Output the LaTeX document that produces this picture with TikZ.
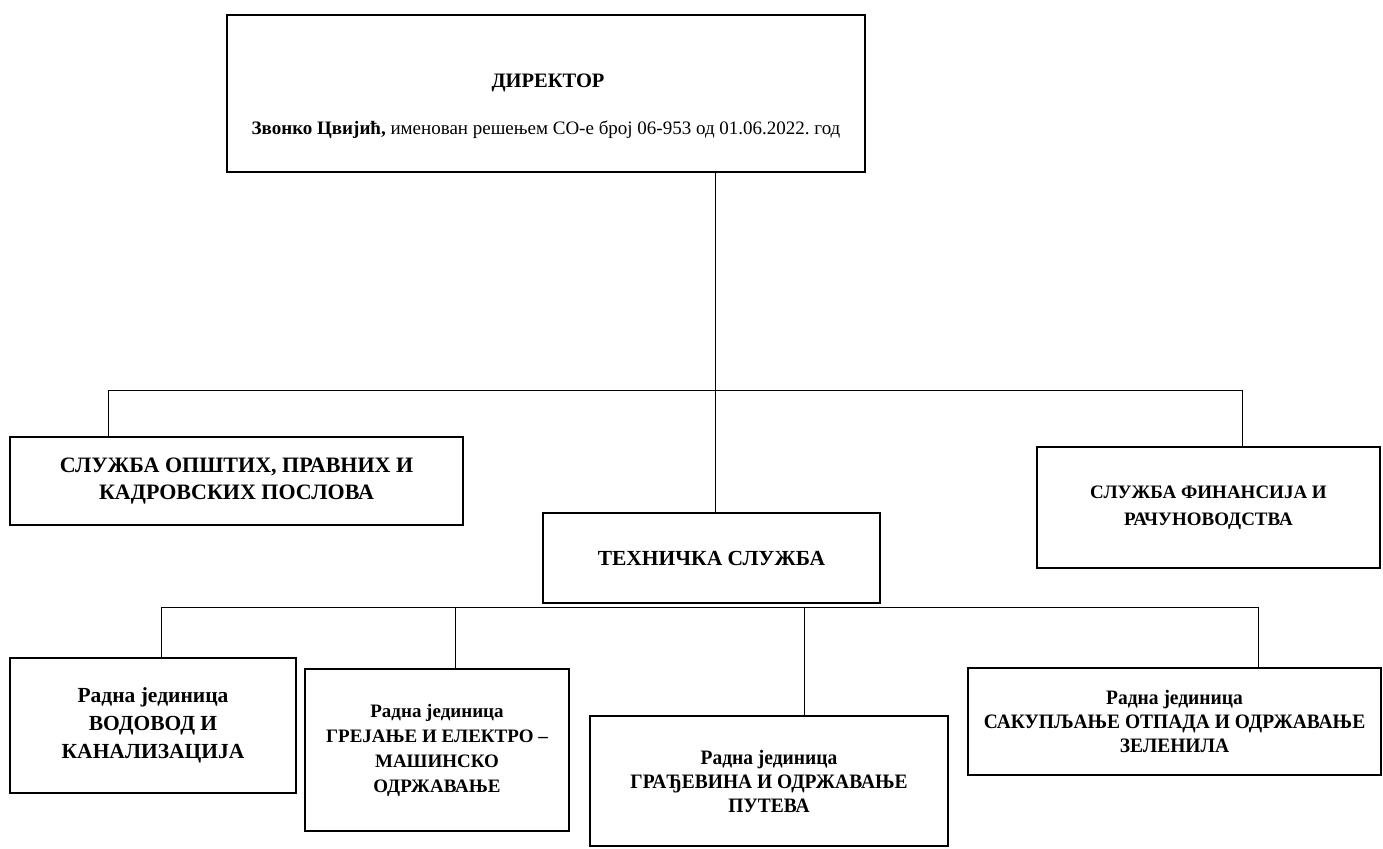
\documentclass[tikz,border=0pt]{standalone}
\usepackage{fontspec}
\setmainfont{Liberation Serif}
\newfontfamily\narrowfont[FakeStretch=0.95]{Liberation Serif}
\frenchspacing
\tikzset{
	unit/.style={draw, line width=1.1pt, align=center, inner sep=0pt, font=\bfseries\fontsize{21.5}{27}\selectfont},
	narrowunit/.style={unit, font=\narrowfont\bfseries\fontsize{20.5}{24}\selectfont},
	link/.style={line width=0.8pt}
}
\begin{document}
\begin{tikzpicture}[x=1pt,y=-1pt]
	\useasboundingbox (0,0) rectangle (1383,848);
	% director
	\node[unit, minimum width=638, minimum height=157] (dir) at (546,93.5) {};
	\node[font=\bfseries\fontsize{20.5}{24}\selectfont] (dirtitle) at (548,83) {ДИРЕКТОР};
	\node[font=\fontsize{19}{24}\selectfont] (dirname) at (546,130) {\textbf{Звонко Цвијић,} именован решењем СО-е број 06-953 од 01.06.2022. год};
	% first level
	\node[unit, minimum width=453, minimum height=88, font=\bfseries\fontsize{22}{27}\selectfont] (ops) at (236.5,481) {СЛУЖБА ОПШТИХ, ПРАВНИХ И\\КАДРОВСКИХ ПОСЛОВА};
	\node[unit, minimum width=343, minimum height=121, font=\bfseries\fontsize{19}{27}\selectfont] (fin) at (1208.5,507.5) {СЛУЖБА ФИНАНСИЈА И\\РАЧУНОВОДСТВА};
	\node[unit, minimum width=337, minimum height=90] (tech) at (711.5,558) {ТЕХНИЧКА СЛУЖБА};
	% work units
	\node[unit, minimum width=286, minimum height=135, font=\bfseries\fontsize{21.5}{28}\selectfont] (vod) at (153,725.5) {Радна јединица\\ВОДОВОД И\\КАНАЛИЗАЦИЈА};
	\node[unit, minimum width=264, minimum height=162, font=\bfseries\fontsize{19}{25}\selectfont] (grej) at (437,750) {Радна јединица\\ГРЕЈАЊЕ И ЕЛЕКТРО –\\МАШИНСКО\\ОДРЖАВАЊЕ};
	\node[narrowunit, minimum width=358, minimum height=130] (grad) at (769,781) {Радна јединица\\ГРАЂЕВИНА И ОДРЖАВАЊЕ\\ПУТЕВА};
	\node[narrowunit, minimum width=413, minimum height=107] (sak) at (1174.5,721.5) {Радна јединица\\САКУПЉАЊЕ ОТПАДА И ОДРЖАВАЊЕ\\ЗЕЛЕНИЛА};
	% connectors
	\coordinate (trunk) at (715,390);
	\coordinate (bar1w) at (108,390);
	\coordinate (bar1e) at (1242,390);
	\coordinate (bar2w) at (161,607);
	\coordinate (bar2e) at (1258,607);
	\coordinate (drop2) at (455,607);
	\coordinate (drop3) at (804,607);
	\draw[link] (dir.south -| trunk) -- (tech.north -| trunk);
	\draw[link] (bar1w) -- (bar1e);
	\draw[link] (bar1w) -- (bar1w |- ops.north);
	\draw[link] (bar1e) -- (bar1e |- fin.north);
	\draw[link] (bar2w) -- (bar2e);
	\draw[link] (bar2w) -- (bar2w |- vod.north);
	\draw[link] (drop2) -- (drop2 |- grej.north);
	\draw[link] (drop3) -- (drop3 |- grad.north);
	\draw[link] (bar2e) -- (bar2e |- sak.north);
\end{tikzpicture}
\end{document}
